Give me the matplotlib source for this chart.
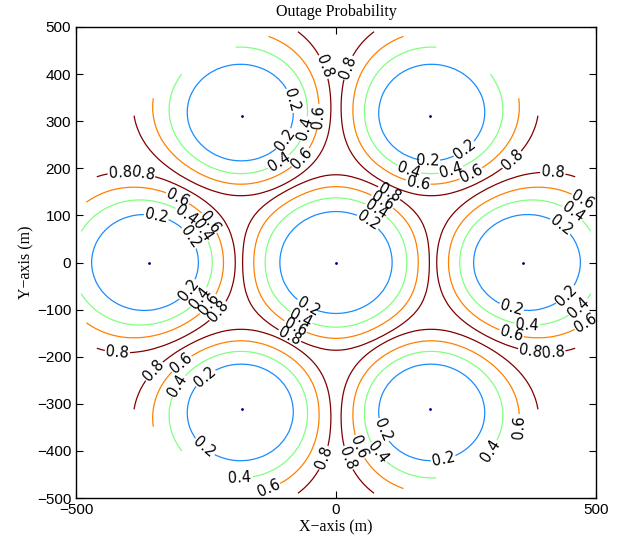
import numpy as np
import matplotlib
matplotlib.use('Agg')
import matplotlib.pyplot as plt

# Base-station positions (m)
bs_x = [0, 360, 180, -180, -360, -180, 180]
bs_y = [0, 0, 311.8, 311.8, 0, -311.8, -311.8]
# noise-limited range of each station (m)
bs_range = [390, 200, 200, 200, 200, 200, 200]

# Contour levels and colours
levels = [0.2, 0.4, 0.6, 0.8]
level_colors = ['#1a8cff', '#80ff80', '#ff8000', '#800000']

# Model parameters for the outage field
area_radius = 500
path_loss_exp = 3.0
interference_weight = 1.0
grid_step = 10

x_ticks = [-500, 0, 500]
y_ticks = [-500, -400, -300, -200, -100, 0, 100, 200, 300, 400, 500]

# approximate places where the contour labels sit, per level (layout only)
label_spots = {
    0.2: [(-83, 345), (-88, 254), (-344, 105), (-275, 58), (252, 232), (175, 203),
          (66, 94), (430, 75), (-273, -68), (-256, -239), (-246, -383), (-57, -100),
          (335, -105), (437, -64), (81, -360), (204, -405)],
    0.4: [(-50, 281), (-111, 216), (-281, 111), (-248, 75), (137, 186), (225, 181),
          (77, 111), (445, 90), (-254, -83), (-313, -256), (-185, -436), (-67, -117),
          (367, -143), (452, -77), (71, -413), (267, -381)],
    0.6: [(-25, 309), (-63, 218), (-300, 148), (-237, 90), (263, 181), (156, 158),
          (87, 125), (458, 104), (-238, -95), (-306, -203), (-210, -440), (-76, -132),
          (335, -160), (466, -89), (31, -398), (262, -405)],
    0.8: [(-12, 420), (8, 420), (-415, 190), (-371, 192), (344, 211), (417, 190),
          (99, 141), (-222, -108), (-421, -196), (-358, -222), (-86, -149),
          (373, -196), (417, -192), (-10, -420), (10, -420)],
}

x = np.arange(-500, 501, grid_step)
X, Y = np.meshgrid(x, x)
D = np.array([np.hypot(X - bx, Y - by) for bx, by in zip(bs_x, bs_y)])
D = np.maximum(D, 1e-6)
S_all = []
for s in range(len(bs_x)):
    S = (D[s] / bs_range[s]) ** path_loss_exp
    for k in range(len(bs_x)):
        if k != s:
            S = S + interference_weight * (D[s] / D[k]) ** path_loss_exp
    S_all.append(S)
Z = 1 - np.exp(-np.min(S_all, axis=0))
Z[np.hypot(X, Y) > area_radius] = np.nan

fig = plt.figure(figsize=(6.23, 5.43), dpi=100)
ax = fig.add_axes([76 / 623, 45 / 543, 520 / 623, 471 / 543])
for lev, col in zip(levels, level_colors):
    cs = ax.contour(X, Y, Z, levels=[lev], colors=[col], linewidths=0.9)
    ax.clabel(cs, fmt='%.1f', fontsize=10.5, colors='k', inline=True,
              inline_spacing=1, manual=label_spots[lev])
ax.plot(bs_x, bs_y, linestyle='none', marker='.', markersize=2, color='#000080')

ax.set_xlim(-500, 500)
ax.set_ylim(-500, 500)
ax.set_xticks(x_ticks)
ax.set_yticks(y_ticks)
ax.set_xticklabels(['\u2212500', '0', '500'])
ax.set_yticklabels([('\u2212' + str(-v)) if v < 0 else str(v) for v in y_ticks])
ax.tick_params(direction='in', length=5, top=True, right=True, labelsize=11)
for lab in ax.get_xticklabels() + ax.get_yticklabels():
    lab.set_family('Liberation Sans')
for sp in ax.spines.values():
    sp.set_linewidth(1.0)
ax.set_title('Outage Probability', family='Liberation Serif', fontsize=11.5, pad=8)
ax.set_xlabel('X\u2212axis (m)', family='Liberation Serif', fontsize=11.5, labelpad=2)
ax.set_ylabel('Y\u2212axis (m)', family='Liberation Serif', fontsize=11.5, labelpad=2)

fig.savefig('out.png', dpi=100)
